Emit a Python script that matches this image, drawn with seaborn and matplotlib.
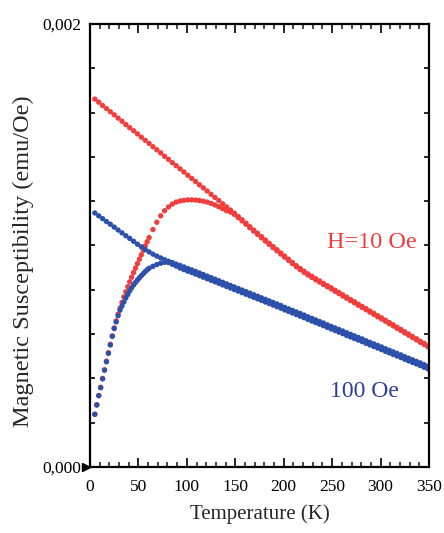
import numpy as np
import pandas as pd
import matplotlib
matplotlib.use("Agg")
import matplotlib.pyplot as plt
import matplotlib.transforms as mtransforms
from matplotlib.ticker import MultipleLocator, FixedLocator, FuncFormatter
import seaborn as sns

# Temperature grids (K): field-cooled sweep, and zero-field-cooled sweep
# (finer steps at low temperature)
temp_fc = list(range(5, 350, 4))
temp_zfc = list(range(5, 62, 2)) + list(range(65, 350, 4))

# Susceptibility in units of 1e-3 emu/Oe
chi_10oe_fc = [
    1.661, 1.647, 1.632, 1.618, 1.604, 1.590, 1.575, 1.561, 1.546, 1.532,
    1.518, 1.504, 1.489, 1.475, 1.461, 1.446, 1.432, 1.418, 1.403, 1.389,
    1.374, 1.360, 1.346, 1.332, 1.317, 1.303, 1.289, 1.274, 1.260, 1.246,
    1.231, 1.217, 1.203, 1.188, 1.174, 1.160, 1.146, 1.131, 1.116, 1.101,
    1.085, 1.070, 1.055, 1.040, 1.025, 1.010, 0.995, 0.981, 0.966, 0.952,
    0.938, 0.923, 0.909, 0.896, 0.884, 0.872, 0.861, 0.850, 0.840, 0.829,
    0.819, 0.809, 0.798, 0.788, 0.777, 0.767, 0.756, 0.746, 0.735, 0.725,
    0.715, 0.704, 0.694, 0.683, 0.673, 0.663, 0.652, 0.642, 0.631, 0.621,
    0.610, 0.600, 0.589, 0.579, 0.568, 0.558, 0.547,
]
chi_100oe_fc = [
    1.147, 1.134, 1.121, 1.108, 1.096, 1.083, 1.070, 1.057, 1.044, 1.032,
    1.019, 1.006, 0.994, 0.982, 0.971, 0.961, 0.952, 0.944, 0.936, 0.929,
    0.923, 0.916, 0.910, 0.903, 0.896, 0.890, 0.883, 0.876, 0.869, 0.862,
    0.855, 0.848, 0.841, 0.834, 0.827, 0.820, 0.813, 0.806, 0.799, 0.792,
    0.785, 0.778, 0.771, 0.764, 0.757, 0.750, 0.743, 0.736, 0.729, 0.721,
    0.714, 0.707, 0.700, 0.693, 0.686, 0.678, 0.671, 0.664, 0.657, 0.650,
    0.642, 0.635, 0.628, 0.621, 0.614, 0.606, 0.599, 0.592, 0.585, 0.578,
    0.570, 0.563, 0.556, 0.549, 0.542, 0.534, 0.527, 0.520, 0.513, 0.506,
    0.498, 0.491, 0.484, 0.477, 0.470, 0.462, 0.455,
]
chi_10oe_zfc = [
    0.238, 0.281, 0.323, 0.360, 0.400, 0.439, 0.478, 0.516, 0.554, 0.592,
    0.628, 0.660, 0.690, 0.717, 0.743, 0.768, 0.791, 0.814, 0.836, 0.857,
    0.878, 0.898, 0.918, 0.938, 0.958, 0.978, 0.998, 1.017, 1.036,
    1.072, 1.105, 1.134, 1.157, 1.174, 1.187, 1.196, 1.201, 1.204, 1.206,
    1.206, 1.205, 1.203, 1.200, 1.196, 1.190, 1.183, 1.175, 1.166, 1.157,
    1.151, 1.140, 1.126, 1.111, 1.096, 1.080, 1.065, 1.050, 1.035, 1.020,
    1.005, 0.990, 0.976, 0.961, 0.947, 0.933, 0.918, 0.904, 0.891, 0.879,
    0.867, 0.856, 0.845, 0.835, 0.824, 0.814, 0.804, 0.793, 0.783, 0.772,
    0.762, 0.751, 0.741, 0.730, 0.720, 0.710, 0.699, 0.689, 0.678, 0.668,
    0.658, 0.647, 0.637, 0.626, 0.616, 0.605, 0.595, 0.584, 0.574, 0.563,
    0.553, 0.542,
]
chi_100oe_zfc = [
    0.238, 0.280, 0.322, 0.358, 0.398, 0.437, 0.475, 0.513, 0.551, 0.590,
    0.625, 0.655, 0.683, 0.708, 0.727, 0.745, 0.763, 0.779, 0.795, 0.809,
    0.822, 0.833, 0.844, 0.854, 0.864, 0.873, 0.882, 0.890, 0.897,
    0.906, 0.914, 0.920, 0.924, 0.923, 0.915, 0.907, 0.898, 0.891, 0.884,
    0.878, 0.871, 0.864, 0.857, 0.850, 0.843, 0.836, 0.829, 0.822, 0.815,
    0.808, 0.801, 0.794, 0.787, 0.780, 0.773, 0.766, 0.759, 0.752, 0.745,
    0.738, 0.731, 0.724, 0.717, 0.709, 0.702, 0.695, 0.688, 0.681, 0.674,
    0.666, 0.659, 0.652, 0.645, 0.638, 0.630, 0.623, 0.616, 0.609, 0.602,
    0.594, 0.587, 0.580, 0.573, 0.566, 0.558, 0.551, 0.544, 0.537, 0.530,
    0.522, 0.515, 0.508, 0.501, 0.494, 0.486, 0.479, 0.472, 0.465, 0.458,
    0.450, 0.443,
]

series = [
    ("10 Oe FC", temp_fc, chi_10oe_fc),
    ("10 Oe ZFC", temp_zfc, chi_10oe_zfc),
    ("100 Oe FC", temp_fc, chi_100oe_fc),
    ("100 Oe ZFC", temp_zfc, chi_100oe_zfc),
]
series_names = [s[0] for s in series]

RED = "#f03e3e"
BLUE = "#2d51aa"
palette = {"10 Oe FC": RED, "10 Oe ZFC": RED, "100 Oe FC": BLUE, "100 Oe ZFC": BLUE}

df = pd.concat(
    [pd.DataFrame({"T": t, "chi": np.asarray(v) * 1e-3, "series": name})
     for name, t, v in series],
    ignore_index=True,
)

sns.set_theme(style="ticks")
plt.rcParams["font.family"] = ["Liberation Serif", "DejaVu Serif"]

fig = plt.figure(figsize=(4.44, 5.33), dpi=100)
ax = fig.add_axes([0.2027, 0.1238, 0.7635, 0.8312])

sns.scatterplot(data=df, x="T", y="chi", hue="series", hue_order=series_names,
                palette=palette, s=15, linewidth=0, legend=False, ax=ax)

ax.set_xlim(0, 350)
ax.set_ylim(0, 0.002)

ax.xaxis.set_major_locator(MultipleLocator(50))
ax.xaxis.set_minor_locator(MultipleLocator(10))
ax.yaxis.set_major_locator(FixedLocator([0.0, 0.002]))
ax.yaxis.set_minor_locator(MultipleLocator(0.0002))
ax.yaxis.set_major_formatter(FuncFormatter(lambda v, _: f"{v:.3f}".replace(".", ",")))

ax.tick_params(axis="x", which="major", direction="in", length=6.5, width=1.2,
               top=True, bottom=True, labelsize=12.5, pad=8.5, colors="black")
ax.tick_params(axis="x", which="minor", direction="in", length=3.6, width=1.2,
               top=True, bottom=True)
ax.tick_params(axis="y", which="both", direction="in", length=3.6, width=1.2,
               left=True, right=True, labelsize=12.5, pad=6, colors="black")

for sp in ax.spines.values():
    sp.set_linewidth(1.6)
    sp.set_color("black")
    sp.set_visible(True)

ax.set_xlabel("Temperature (K)", fontsize=15, labelpad=7)
ax.set_ylabel("Magnetic Susceptibility (emu/Oe)", fontsize=17.5, labelpad=6)
ax.yaxis.label.set_y(0.465)

ax.text(244.4, 0.987e-3, "H=10 Oe", color=RED, fontsize=17.5, ha="left", va="baseline")
ax.text(247.8, 0.317e-3, "100 Oe", color="#2a3f9a", fontsize=17, ha="left", va="baseline")

# zero marker on the left axis
trans = mtransforms.blended_transform_factory(ax.transAxes, ax.transData)
ax.plot([-0.013], [0.0], marker=">", markersize=6, color="black",
        transform=trans, clip_on=False)

fig.savefig("out.png", dpi=100)
